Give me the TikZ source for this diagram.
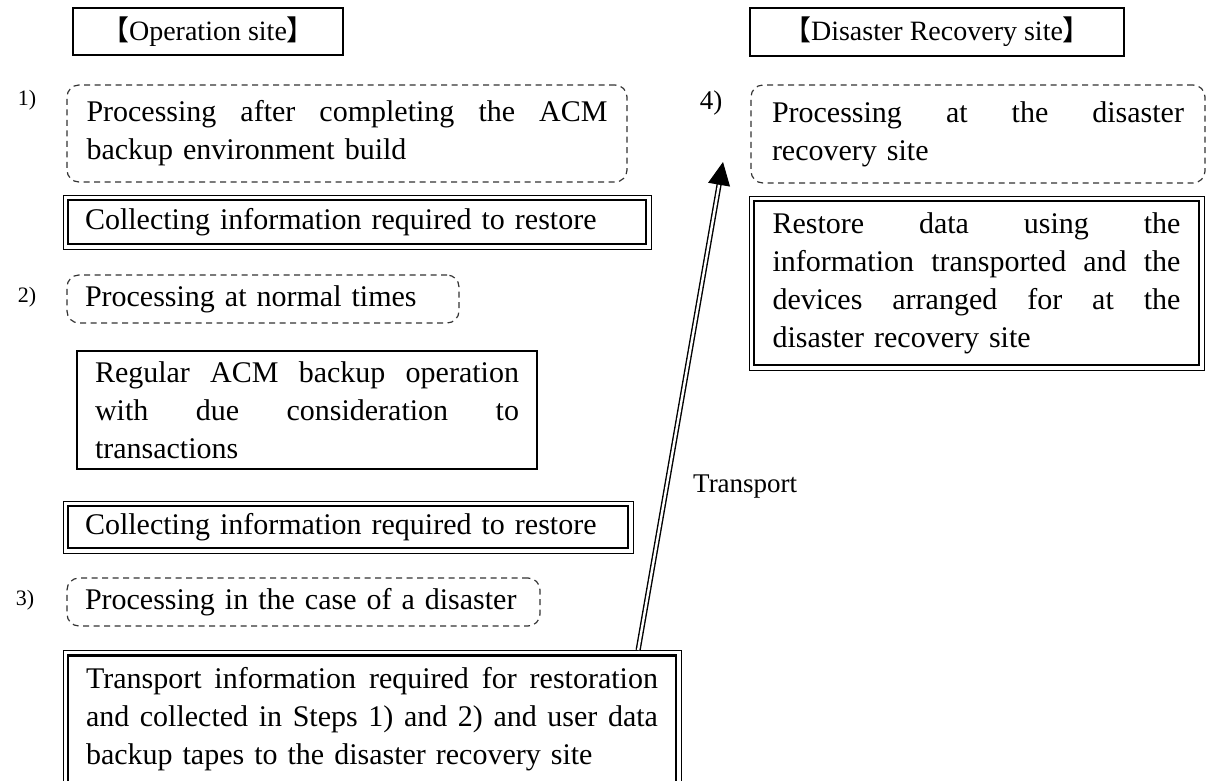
\documentclass[tikz,border=0pt]{standalone}
\usepackage{fontspec}
\setmainfont{Liberation Serif}
\newfontfamily\cjkfont{Noto Sans CJK JP}
\usetikzlibrary{arrows.meta,calc}
\newcommand\jline[1]{\leavevmode\hbox to \hsize{#1}}
\begin{document}
\begin{tikzpicture}[x=1pt,y=-1pt,
  txt/.style={font=\fontsize{30}{38}\selectfont, align=left, inner xsep=0pt, inner ysep=0pt},
  plainbox/.style={draw, line width=1.2pt, txt},
  titlebox/.style={draw, line width=1.2pt, font=\fontsize{28}{30}\selectfont, inner sep=0pt},
  dashbox/.style={draw=black!80, line width=1.2pt, dash pattern=on 6pt off 4.5pt, rounded corners=12pt, txt},
  dblbox/.style={draw, line width=0.9pt, txt},
  innerframe/.style={line width=2.6pt},
  steplabel/.style={font=\fontsize{22}{24}\selectfont, inner sep=0pt}
]
\useasboundingbox (0,0) rectangle (1208,780);
\clip (0,0) rectangle (1208,780);
\fill[white] (0,0) rectangle (1208,780);

% titles
\node[titlebox, minimum width=270pt, minimum height=47pt] (opt) at (208,31.5)
  {{\cjkfont 【}Operation site{\cjkfont 】}};
\node[titlebox, minimum width=374pt, minimum height=48pt] (drt) at (937,32)
  {{\cjkfont 【}Disaster Recovery site{\cjkfont 】}};

% step labels
\node[steplabel] (l1) at (27,100) {1)};
\node[steplabel] (l2) at (27,297) {2)};
\node[steplabel] (l3) at (25,600) {3)};
\node[steplabel, font=\fontsize{27}{30}\selectfont] (l4) at (711,103) {4)};

% left column
\node[dashbox, minimum width=560pt, minimum height=97pt, text width=521pt] (d1) at (347,133.5)
  {\jline{Processing\hfill after\hfill completing\hfill the\hfill ACM}\\backup environment build};
\node[dblbox, minimum width=588pt, minimum height=54pt, text width=544pt] (c1) at (357,222)
  {Collecting information required to restore};
\node[dashbox, minimum width=392pt, minimum height=48pt, text width=356pt] (d2) at (263,299)
  {Processing at normal times};
\node[plainbox, minimum width=460pt, minimum height=118pt, text width=424pt] (reg) at (307,410)
  {\jline{Regular\hfill ACM\hfill backup\hfill operation}\\\jline{with\hfill due\hfill consideration\hfill to}\\transactions};
\node[dblbox, minimum width=570pt, minimum height=52pt, text width=526pt] (c2) at (348,527)
  {Collecting information required to restore};
\node[dashbox, minimum width=473pt, minimum height=48pt, text width=437pt] (d3) at (303.5,602)
  {Processing in the case of a disaster};
\node[dblbox, minimum width=618pt, minimum height=138pt, text width=572pt] (tr) at (372,719.5)
  {\jline{Transport\hfill information\hfill required\hfill for\hfill restoration}\\\jline{and\hfill collected\hfill in\hfill Steps\hfill 1)\hfill and\hfill 2)\hfill and\hfill user\hfill data}\\backup tapes to the disaster recovery site};

% right column
\node[dashbox, minimum width=454pt, minimum height=98pt, text width=412pt] (d4) at (978,134)
  {\jline{Processing\hfill at\hfill the\hfill disaster}\\recovery site};
\node[dblbox, minimum width=455pt, minimum height=174pt, text width=408pt] (rs) at (976.5,283)
  {\jline{Restore\hfill data\hfill using\hfill the}\\\jline{information\hfill transported\hfill and\hfill the}\\\jline{devices\hfill arranged\hfill for\hfill at\hfill the}\\disaster recovery site};

% inner thick frames of the double boxes
\foreach \n in {c1,c2,tr,rs}{
  \draw[innerframe] ($(\n.north west)+(5.5,5.5)$) rectangle ($(\n.south east)+(-5.5,-5.5)$);
}

% transport arrow
\coordinate (tstart) at ($(tr.north west)!0.93!(tr.north east)$);
\coordinate (ttip) at (723,162);
\draw[double, line width=1.4pt, double distance=2.4pt, shorten >=20pt] (tstart) -- (ttip);
\draw[-{Triangle[length=23pt,width=22pt]}, line width=1pt] ($(ttip)!22pt!(tstart)$) -- (ttip);
\node[font=\fontsize{27}{30}\selectfont, anchor=west, inner sep=0pt] (tlab) at (693,487) {Transport};
\end{tikzpicture}
\end{document}
